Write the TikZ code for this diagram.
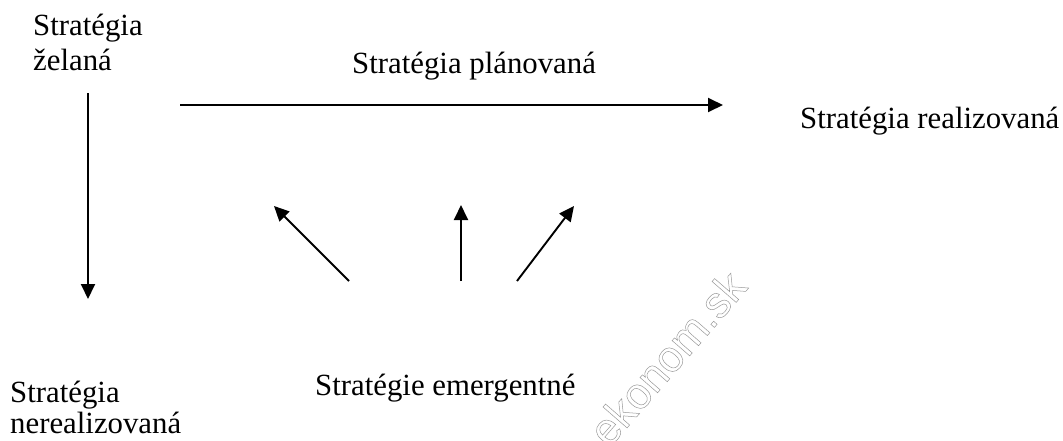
\documentclass[tikz,border=0pt]{standalone}
\usepackage{fontspec}
\setmainfont{Liberation Serif}
\newfontfamily\wmfont{Liberation Sans}
\usetikzlibrary{arrows.meta}
\tikzset{
  lbl/.style={anchor=base west, inner sep=0pt, font=\fontsize{30.8}{33}\selectfont, align=left},
  arr/.style={line width=1.9pt, -{Triangle[length=15pt,width=14pt]}}
}
\begin{document}
\begin{tikzpicture}[x=1pt,y=-1pt]
\useasboundingbox (0,0) rectangle (1063,440);
\node[lbl, font=\fontsize{30.8}{35}\selectfont] (zel) at (33,70) {Stratégia\\želaná};
\node[lbl] (plan) at (352,73) {Stratégia plánovaná};
\node[lbl] (real) at (800,128) {Stratégia realizovaná};
\node[lbl, font=\fontsize{30.8}{31}\selectfont] (nereal) at (10,433) {Stratégia\\nerealizovaná};
\node[lbl] (emer) at (315,395) {Stratégie emergentné};
\coordinate (d1) at (88,93);
\coordinate (d2) at (88,299);
\coordinate (h1) at (180,105);
\coordinate (h2) at (723,105);
\coordinate (a1s) at (349,281);
\coordinate (a1e) at (274,206);
\coordinate (a2s) at (461,281);
\coordinate (a2e) at (461,205);
\coordinate (a3s) at (517,281);
\coordinate (a3e) at (574,206);
\draw[arr] (d1) -- (d2);
\draw[arr] (h1) -- (h2);
\draw[arr] (a1s) -- (a1e);
\draw[arr] (a2s) -- (a2e);
\draw[arr] (a3s) -- (a3e);
\node[rotate=49, inner sep=0pt, font=\wmfont\fontsize{44}{44}\selectfont] (wm) at (667,358)
  {\special{pdf:literal q 1 Tr 0.5 w 0.6 0.6 0.6 RG}ekonom.sk\special{pdf:literal Q}};
\end{tikzpicture}
\end{document}
